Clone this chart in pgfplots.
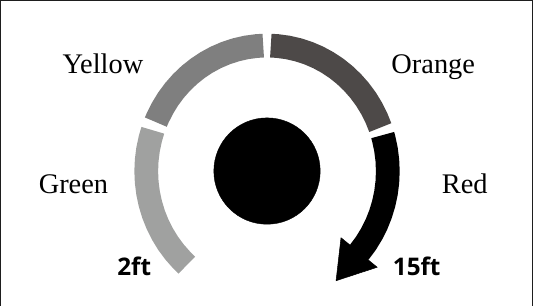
\documentclass[border=0pt]{standalone}
\usepackage{pgfplots}
\pgfplotsset{compat=1.18}
\usepackage{fontspec}
\setmainfont{Liberation Serif}
\newfontfamily\osans{Open Sans}
\usetikzlibrary{arrows.meta}
\definecolor{cgreen}{RGB}{160,161,160}
\definecolor{cyellow}{RGB}{127,127,127}
\definecolor{corange}{RGB}{77,73,72}
\definecolor{cred}{RGB}{0,0,0}
\definecolor{frame}{RGB}{30,30,30}
\begin{document}
\begin{tikzpicture}
\begin{axis}[
  width=533pt, height=303pt, scale only axis,
  xmin=0, xmax=533, ymin=0, ymax=291.35,
  hide axis, clip=true,
]
% frame
\addplot[frame, line width=1.3pt, line join=miter] coordinates {(10,0) (10,284.3) (525,284.3) (525,0)};
% Green 228.4 -> 161 deg
\addplot[cgreen, line width=23pt, line join=round, line cap=butt] coordinates {
(190.32,37.99) (185.27,42.75) (178.37,50.27) (172.15,58.37) (166.68,66.98) (161.96,76.04)
(158.06,85.46) (154.99,95.20) (152.78,105.16) (151.45,115.28) (151.00,125.48) (151.45,135.68)
(152.78,145.80) (154.99,155.76) (157.38,163.57)};
% Yellow 157 -> 91.8 deg
\addplot[cyellow, line width=23pt, line join=round, line cap=butt] coordinates {
(160.30,171.19) (161.96,174.92) (166.68,183.98) (172.15,192.59) (178.37,200.69) (185.27,208.21)
(192.79,215.11) (200.89,221.33) (209.50,226.80) (218.56,231.52) (227.98,235.42) (237.72,238.49)
(247.68,240.70) (257.80,242.03) (264.33,242.42)};
% Orange 88.2 -> 20.3 deg
\addplot[corange, line width=23pt, line join=round, line cap=butt] coordinates {
(271.67,242.42) (278.20,242.03) (288.32,240.70) (298.28,238.49) (308.02,235.42) (317.44,231.52)
(326.50,226.80) (335.11,221.33) (343.21,215.11) (350.73,208.21) (357.63,200.69) (363.85,192.59)
(369.32,183.98) (374.04,174.92) (377.73,166.07)};
% Red 16.7 -> -40.3 deg, arrow
\addplot[cred, line width=23pt, line join=round, line cap=butt,
  -{Triangle[length=36pt,width=46pt,line width=0.5pt]}] coordinates {
(380.06,159.11) (381.01,155.76) (383.22,145.80) (384.55,135.68) (385.00,125.48) (384.55,115.28)
(383.22,105.16) (381.01,95.20) (377.94,85.46) (374.04,76.04) (369.32,66.98) (363.85,58.37)
(357.24,49.80) (334.6,23.1)};
% centre circle
\addplot[only marks, mark=*, mark size=51.5pt, black] coordinates {(268,125.6)};
% labels
\node[anchor=base, font=\fontsize{27.5}{30}\selectfont] at (axis cs:109,216.8) {Yellow};
\node[anchor=base, font=\fontsize{27.5}{30}\selectfont] at (axis cs:429,216.8) {Orange};
\node[anchor=base, font=\fontsize{27.5}{30}\selectfont] at (axis cs:80.5,104.9) {Green};
\node[anchor=base, font=\fontsize{27.5}{30}\selectfont] at (axis cs:459.5,104.9) {Red};
\node[anchor=base, font=\osans\bfseries\fontsize{23.5}{26}\selectfont] at (axis cs:139.4,28.3) {2ft};
\node[anchor=base, font=\osans\bfseries\fontsize{23.5}{26}\selectfont] at (axis cs:413,28.3) {15ft};
\end{axis}
\end{tikzpicture}
\end{document}
